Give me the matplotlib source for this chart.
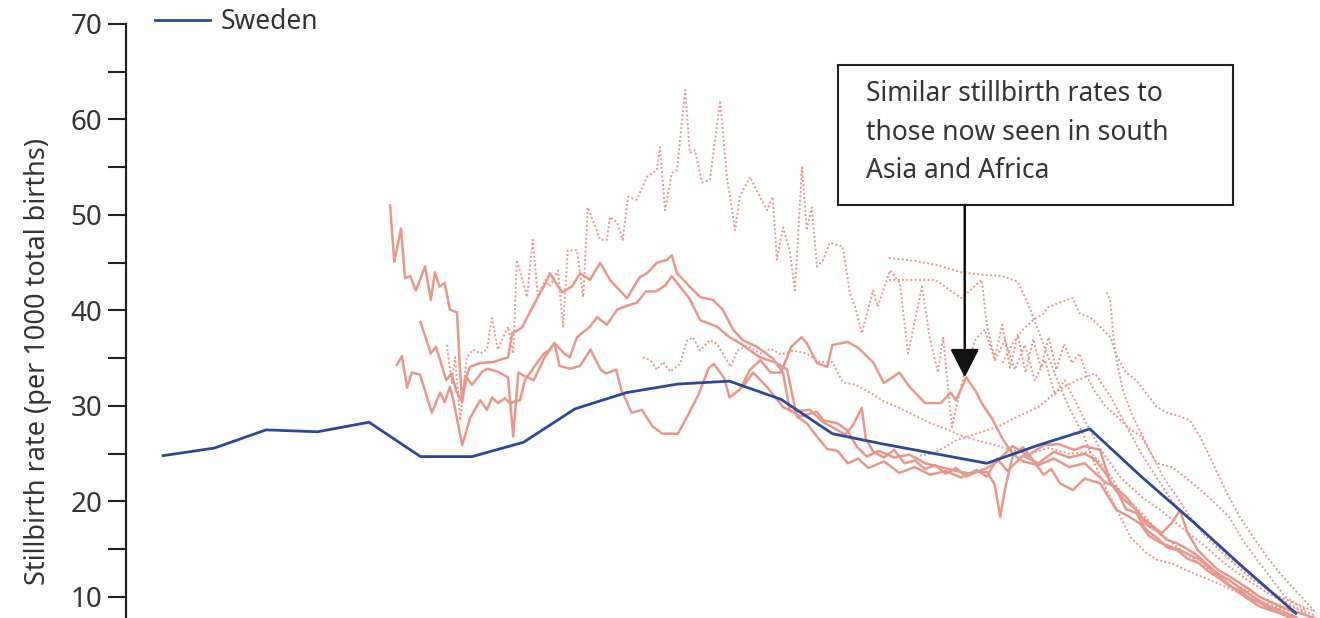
import matplotlib
matplotlib.use("Agg")
import matplotlib.pyplot as plt
from matplotlib.patches import Rectangle

plt.rcParams['font.family'] = ['Noto Sans', 'DejaVu Sans']

# Sweden, one value per decade
sweden_year = [1750, 1760, 1770, 1780, 1790, 1800, 1810, 1820, 1830, 1840, 1850, 1860,
               1870, 1880, 1890, 1900, 1910, 1920, 1930, 1940, 1950, 1960, 1970]
sweden_rate = [24.8, 25.6, 27.5, 27.3, 28.3, 24.7, 24.7, 26.2, 29.7, 31.4, 32.3, 32.6,
               30.7, 27.1, 26.0, 25.0, 24.0, 25.9, 27.6, 22.6, 17.9, 13.0, 8.3]

# other countries, solid lines
sa_year = [1794.1, 1794.9, 1796.2, 1797.0, 1798.0, 1799.1, 1800.9, 1802.0, 1802.8, 1803.7,
           1804.7, 1805.7, 1807.1, 1807.7, 1808.1, 1808.6, 1809.6, 1811.6, 1814.1, 1817.0,
           1817.8, 1819.7, 1821.8, 1824.6, 1825.1, 1827.5, 1829.4, 1831.0, 1832.9, 1834.9,
           1836.8, 1840.1, 1842.6, 1844.0, 1845.9, 1847.9, 1848.8, 1849.8, 1852.3, 1854.3,
           1856.8, 1858.7, 1860.7, 1862.6, 1865.3, 1868.4, 1870.4, 1871.7, 1873.7, 1877.0,
           1878.2, 1880.9, 1882.8, 1884.8, 1886.7, 1889, 1892, 1895, 1898, 1901,
           1904, 1907, 1910, 1912, 1915, 1918, 1921, 1924, 1927, 1929,
           1932, 1934, 1937, 1940, 1942, 1944, 1946, 1947.5, 1949, 1951,
           1953, 1955, 1957, 1959, 1961, 1963, 1965, 1967, 1969, 1971, 1974]
sa_rate = [51.0, 45.1, 48.6, 43.4, 43.6, 42.1, 44.6, 41.1, 44.0, 42.5,
           42.9, 40.1, 39.8, 33.5, 30.4, 32.7, 34.1, 34.5, 34.6, 35.1,
           37.6, 38.2, 40.4, 43.2, 43.9, 41.9, 42.5, 43.9, 43.2, 45.0,
           43.2, 41.3, 43.5, 43.9, 45.0, 45.3, 45.8, 43.9, 42.5, 41.4,
           41.1, 40.1, 38.0, 36.9, 36.2, 35.0, 33.5, 29.6, 28.9, 29.4,
           28.5, 28.2, 27.5, 25.7, 24.7, 25.3, 24.6, 24.9, 24.0, 23.6,
           23.2, 22.9, 23.5, 24.2, 25.8, 24.8, 25.9, 26.0, 25.4, 25.8,
           25.4, 21.9, 20.5, 18.4, 17.5, 16.7, 17.8, 19.1, 16.7, 14.9,
           13.8, 12.8, 12.2, 11.5, 10.8, 10.0, 9.5, 9.0, 8.6, 8.3, 7.7]

sb_year = [1795.4, 1796.4, 1797.4, 1798.3, 1799.9, 1802.2, 1803.8, 1804.7, 1805.7, 1806.3,
           1808.1, 1809.6, 1811.6, 1812.9, 1813.9, 1815.0, 1816.4, 1817.4, 1819.3, 1820.3,
           1822.6, 1824.0, 1825.1, 1826.0, 1827.9, 1829.0, 1830.4, 1832.9, 1834.3, 1836.2,
           1838.2, 1840.7, 1842.0, 1843.8, 1845.7, 1847.5, 1848.8, 1850.4, 1852.3, 1854.3,
           1857.6, 1860.0, 1862.0, 1865.9, 1869.2, 1871.2, 1873.1, 1875, 1877, 1879,
           1881, 1883, 1885, 1887, 1890, 1893, 1896, 1899, 1902, 1905,
           1908, 1910, 1912, 1914, 1917, 1920, 1923, 1926, 1929, 1931,
           1933, 1935, 1937, 1939, 1941, 1943, 1945, 1947, 1949, 1951,
           1953, 1955, 1957, 1959, 1961, 1963, 1965, 1967, 1970]
sb_rate = [34.3, 35.2, 31.9, 33.5, 33.3, 29.3, 31.4, 30.4, 32.0, 30.8,
           25.9, 28.7, 30.6, 29.6, 30.9, 30.3, 30.8, 30.3, 30.6, 32.7,
           34.5, 35.5, 35.9, 36.6, 35.5, 35.1, 37.2, 38.3, 39.3, 38.5,
           40.1, 40.6, 40.8, 42.0, 42.0, 42.6, 43.6, 42.5, 41.2, 39.0,
           38.3, 37.2, 36.6, 35.1, 34.5, 33.8, 28.9, 28.2, 26.8, 25.5,
           25.3, 24.0, 24.5, 23.5, 24.2, 23.0, 23.6, 22.8, 23.2, 22.5,
           23.3, 22.6, 24.5, 23.2, 24.8, 24.0, 25.2, 24.6, 25.0, 24.4,
           23.0, 21.2, 20.0, 19.2, 17.6, 16.9, 16.0, 15.6, 15.0, 14.3,
           13.3, 12.4, 11.8, 11.0, 10.3, 9.6, 9.0, 8.6, 7.9]

sc_year = [1800, 1802, 1803, 1805, 1806, 1807, 1808, 1809, 1810, 1812,
           1813, 1815, 1817, 1818, 1819, 1820, 1822, 1824, 1826, 1827,
           1829, 1831, 1833, 1835, 1836, 1838, 1839, 1841, 1843, 1845,
           1847, 1850, 1852, 1854, 1856, 1857, 1859, 1860, 1862, 1864,
           1866, 1868, 1870, 1872, 1874, 1875, 1877, 1879, 1880, 1883,
           1885, 1888, 1890, 1893, 1895, 1898, 1901, 1903, 1904, 1906,
           1908, 1909, 1911, 1913, 1915, 1917, 1920, 1923, 1926, 1929,
           1931, 1933, 1935, 1937, 1939, 1941, 1943, 1945, 1947, 1949,
           1951, 1953, 1955, 1957, 1959, 1961, 1963, 1965, 1967, 1969, 1972]
sc_rate = [38.8, 35.5, 36.2, 32.7, 33.4, 31.5, 30.5, 33.0, 32.2, 33.6,
           33.9, 33.6, 33.0, 26.8, 33.5, 33.2, 32.7, 35.0, 36.6, 34.2,
           33.9, 34.2, 35.9, 33.8, 33.4, 33.8, 31.7, 29.3, 29.6, 27.9,
           27.1, 27.1, 29.1, 31.2, 34.0, 34.4, 32.9, 30.9, 31.7, 33.8,
           34.8, 33.5, 33.5, 36.2, 37.2, 36.6, 34.5, 34.1, 36.4, 36.7,
           36.1, 34.5, 32.4, 33.5, 32.0, 30.3, 30.3, 31.4, 30.6, 33.0,
           31.4, 30.3, 28.7, 26.6, 25.0, 24.2, 23.8, 24.5, 23.6, 24.0,
           23.0, 22.0, 21.5, 19.2, 18.8, 17.0, 16.2, 15.2, 14.9, 14.0,
           13.6, 12.7, 12.0, 11.2, 10.7, 9.9, 9.4, 8.8, 8.3, 7.9, 7.5]

sd_year = [1862.6, 1864.6, 1867.3, 1870.4, 1872.3, 1875.6, 1878.2, 1880.9, 1882.5, 1884,
           1885.7, 1886.5, 1888, 1890, 1892, 1894, 1896, 1898, 1900, 1902,
           1904, 1906, 1908, 1910, 1911.5, 1912.6, 1913.6, 1915, 1917, 1919,
           1921, 1922.5, 1924.2, 1926.7, 1929, 1932, 1935.2, 1937, 1939.7, 1941.5,
           1943.6, 1947.5, 1951.4, 1955.2, 1959.1, 1963, 1966.9, 1970]
sd_rate = [32.0, 33.5, 32.0, 29.9, 29.4, 29.6, 28.3, 27.5, 27.0, 28.0,
           29.8, 26.5, 25.2, 24.6, 25.4, 24.0, 24.3, 23.4, 23.8, 22.9,
           23.5, 22.6, 23.1, 23.1, 21.8, 18.4, 21.5, 24.7, 25.7, 24.3,
           22.8, 23.4, 21.9, 21.2, 22.4, 21.9, 19.1, 18.6, 17.7, 16.4,
           15.7, 14.9, 13.9, 12.1, 10.4, 9.0, 8.3, 7.6]

# other countries, dotted lines
da_year = [1805.1, 1806.1, 1806.7, 1807.7, 1809.0, 1810.2, 1811.6, 1812.9, 1813.9, 1815.0,
           1817.0, 1818.0, 1818.7, 1820.7, 1821.8, 1822.8, 1824.2, 1825.1, 1826.7, 1827.7,
           1828.6, 1830.4, 1831.6, 1832.5, 1834.9, 1836.2, 1836.8, 1838.2, 1839.3, 1840.3,
           1842.0, 1844.0, 1845.9, 1846.5, 1847.5, 1848.8, 1849.8, 1851.4, 1852.3, 1853.3,
           1854.7, 1856.2, 1858.2, 1859.5, 1861.1, 1862.0, 1864.0, 1865.9, 1867.3, 1868.4,
           1869.2, 1870.4, 1871.7, 1872.7, 1874.1, 1875.0, 1876.0, 1877.0, 1878.2, 1879.5,
           1882.0, 1883.4, 1884.4, 1885.7, 1887.9, 1888.8, 1891.2, 1893.1, 1894.7, 1897.4,
           1898.9, 1900.5, 1901.5, 1903.2, 1904.4, 1905.7, 1907.7, 1909.6, 1911.6, 1913.5,
           1915.4, 1917.4, 1919.3, 1921.3, 1923.2, 1925.1, 1927.1, 1929.0, 1932, 1936,
           1940, 1944, 1948, 1952, 1956, 1960, 1964, 1968, 1972]
da_rate = [36.4, 32.4, 35.1, 28.5, 35.1, 35.9, 35.5, 35.9, 39.2, 35.9,
           38.3, 35.5, 45.3, 41.4, 47.4, 41.4, 43.2, 42.5, 44.2, 38.3,
           46.3, 46.3, 41.4, 50.8, 47.4, 47.4, 49.8, 49.2, 47.4, 51.9,
           51.6, 54.0, 54.7, 57.1, 50.5, 54.4, 54.7, 63.1, 56.5, 56.8,
           53.4, 53.7, 62.0, 54.0, 48.4, 51.9, 54.0, 51.9, 50.5, 51.9,
           45.3, 48.7, 46.3, 42.1, 55.0, 48.4, 50.8, 44.6, 45.3, 47.1,
           46.7, 41.8, 40.4, 37.6, 42.1, 40.4, 44.2, 42.9, 35.5, 42.5,
           37.2, 33.5, 37.2, 27.8, 30.6, 33.6, 36.9, 38.0, 34.8, 36.9,
           33.8, 36.4, 32.7, 34.8, 31.2, 32.7, 30.6, 28.5, 25.5, 22.5,
           20.5, 19.0, 17.2, 15.5, 13.6, 12.0, 10.6, 9.3, 8.3]

db_year = [1843.2, 1844.6, 1845.9, 1847.1, 1848.5, 1850.4, 1851.7, 1852.9, 1854.3, 1856.2,
           1857.6, 1859.0, 1860.3, 1861.5, 1863.5, 1866.0, 1868.0, 1870.0, 1872.5, 1875.0,
           1877.5, 1880.0, 1882.0, 1884.5, 1887.0, 1890.0, 1893.0, 1896.0, 1899.0, 1902.0,
           1905.0, 1908.0, 1911.0, 1914, 1918, 1922, 1926, 1930, 1933, 1936,
           1940, 1944, 1948, 1952, 1956, 1960, 1964, 1968, 1972]
db_rate = [35.1, 34.8, 33.8, 34.6, 33.6, 34.4, 36.8, 37.2, 35.8, 36.9,
           36.5, 35.2, 34.1, 35.8, 36.3, 35.5, 36.0, 35.4, 35.8, 35.5,
           34.6, 34.6, 32.5, 32.2, 31.5, 30.5, 29.8, 29.0, 28.2, 27.6,
           26.9, 26.4, 26.0, 25.5, 25.0, 25.6, 25.0, 25.2, 23.5, 21.0,
           18.8, 16.5, 14.8, 13.3, 12.0, 10.8, 9.8, 8.9, 8.1]

dc_year = [1891, 1896, 1900, 1905, 1908, 1913, 1916, 1918, 1920, 1922,
           1924, 1926, 1929, 1931, 1933, 1936, 1938, 1941, 1943, 1946,
           1950, 1955, 1960, 1965, 1970, 1974]
dc_rate = [45.5, 45.2, 44.8, 44.0, 43.8, 43.6, 43.0, 40.7, 37.9, 35.0,
           32.3, 29.8, 26.7, 23.9, 21.5, 18.3, 16.2, 14.6, 13.9, 13.5,
           12.5, 11.4, 10.2, 9.2, 8.3, 7.8]

dd_year = [1891, 1896, 1900, 1905, 1909, 1910, 1911.5, 1913, 1914.5, 1916,
           1917.5, 1919, 1920.5, 1922, 1923.5, 1925, 1926.5, 1928, 1929.5, 1931,
           1933, 1935, 1938, 1940, 1943, 1946, 1950, 1953, 1957, 1960,
           1964, 1968, 1972]
dd_rate = [43.2, 43.2, 43.2, 41.3, 43.2, 38.5, 35.0, 38.5, 34.0, 37.5,
           33.5, 37.0, 34.0, 37.2, 33.8, 36.5, 34.5, 35.5, 33.0, 31.5,
           30.0, 29.0, 27.5, 26.8, 24.0, 23.6, 21.9, 20.5, 18.4, 15.7,
           12.8, 10.0, 8.6]

de_year = [1913, 1915, 1917, 1919, 1921, 1922, 1925.5, 1926.7, 1928, 1930,
           1932, 1934, 1935, 1937, 1939, 1940, 1943, 1945, 1947.5, 1949.4,
           1951.4, 1953.9, 1956.6, 1959.1, 1961.7, 1964.4, 1966.9, 1969.4, 1972.1, 1974]
de_rate = [34.5, 36.5, 38.0, 39.0, 39.7, 40.4, 41.1, 41.3, 39.7, 39.3,
           38.3, 37.2, 35.5, 33.5, 32.7, 32.0, 29.9, 29.3, 28.9, 28.5,
           26.8, 24.0, 20.9, 18.4, 16.3, 14.2, 12.5, 11.0, 9.4, 8.3]

df_year = [1897, 1900, 1904, 1908, 1912, 1916, 1920, 1924, 1927.5, 1931,
           1934, 1937, 1940, 1943, 1946, 1949, 1952, 1955, 1958, 1961,
           1964, 1967, 1970, 1974]
df_rate = [24.8, 25.1, 26.4, 27.1, 27.8, 28.9, 29.9, 31.7, 32.7, 33.4,
           31.0, 28.0, 25.0, 22.5, 20.0, 18.3, 17.0, 15.3, 13.8, 12.4,
           11.0, 9.8, 8.9, 8.0]

dg_year = [1933.3, 1934, 1934.5, 1935.2, 1936.4, 1938.3, 1940.3, 1942.2, 1944.2, 1946.9,
           1949.4, 1951.9, 1955.2, 1957.8, 1961.7, 1965.5, 1969.4, 1973.3]
dg_rate = [41.9, 40.9, 37.6, 34.8, 31.7, 28.9, 26.8, 24.7, 22.6, 20.5,
           18.4, 16.7, 14.9, 13.6, 11.8, 10.4, 9.4, 8.6]

solid = [(sa_year, sa_rate), (sb_year, sb_rate), (sc_year, sc_rate), (sd_year, sd_rate)]
dotted = [(da_year, da_rate), (db_year, db_rate), (dc_year, dc_rate), (dd_year, dd_rate),
          (de_year, de_rate), (df_year, df_rate), (dg_year, dg_rate)]

pink = '#E8978B'
blue = '#2D4897'

fig = plt.figure(figsize=(13.2, 6.18), dpi=100)
ax = fig.add_axes([126/1320, 0, 1194/1320, 594/618])

for x, y in dotted:
    ax.plot(x, y, color=pink, linewidth=1.4, linestyle=(0, (1, 1.2)), zorder=2)
for x, y in solid:
    ax.plot(x, y, color=pink, linewidth=1.8, zorder=3)
sw, = ax.plot(sweden_year, sweden_rate, color=blue, linewidth=2.0, zorder=4, label='Sweden')

ax.set_xlim(1742.8, 1974.7)
ax.set_ylim(7.8, 70)

for s in ['top', 'right', 'bottom']:
    ax.spines[s].set_visible(False)
ax.spines['left'].set_linewidth(1.6)
ax.spines['left'].set_color('#222222')
ax.set_yticks(range(10, 71, 10))
ax.set_yticks(range(15, 70, 10), minor=True)
ax.tick_params(axis='y', which='both', direction='out', length=13, width=1.5,
               color='#222222', labelsize=20, labelcolor='#333333', pad=4)
ax.tick_params(axis='x', bottom=False, labelbottom=False)

ax.set_ylabel('Stillbirth rate (per 1000 total births)', fontsize=19.5, color='#333333')
ax.yaxis.set_label_coords(-0.062, 0.431)

fig.legend(handles=[sw], labels=['Sweden'], loc='center left',
           bbox_to_anchor=(155/1320, 1 - 22/618), frameon=False, borderpad=0,
           borderaxespad=0, handlelength=2.1, handletextpad=0.4, fontsize=19,
           labelcolor='#333333')

# annotation box with arrow
ax.add_patch(Rectangle((0.5963, 0.6953), 0.3308, 0.2357, transform=ax.transAxes,
                       facecolor='white', edgecolor='#222222', linewidth=1.5, zorder=6))
ax.text(0.6198, 0.8173, 'Similar stillbirth rates to\nthose now seen in south\nAsia and Africa',
        transform=ax.transAxes, ha='left', va='center', fontsize=19, color='#333333',
        linespacing=1.5, zorder=7)
ax.annotate('', xy=(1905.7, 33.0), xytext=(1905.7, 51.05),
            arrowprops=dict(arrowstyle='-|>,head_length=0.55,head_width=0.28',
                            color='#111111', lw=1.8, shrinkA=0, shrinkB=0,
                            mutation_scale=32), zorder=7)

fig.savefig('out.png', dpi=100)
